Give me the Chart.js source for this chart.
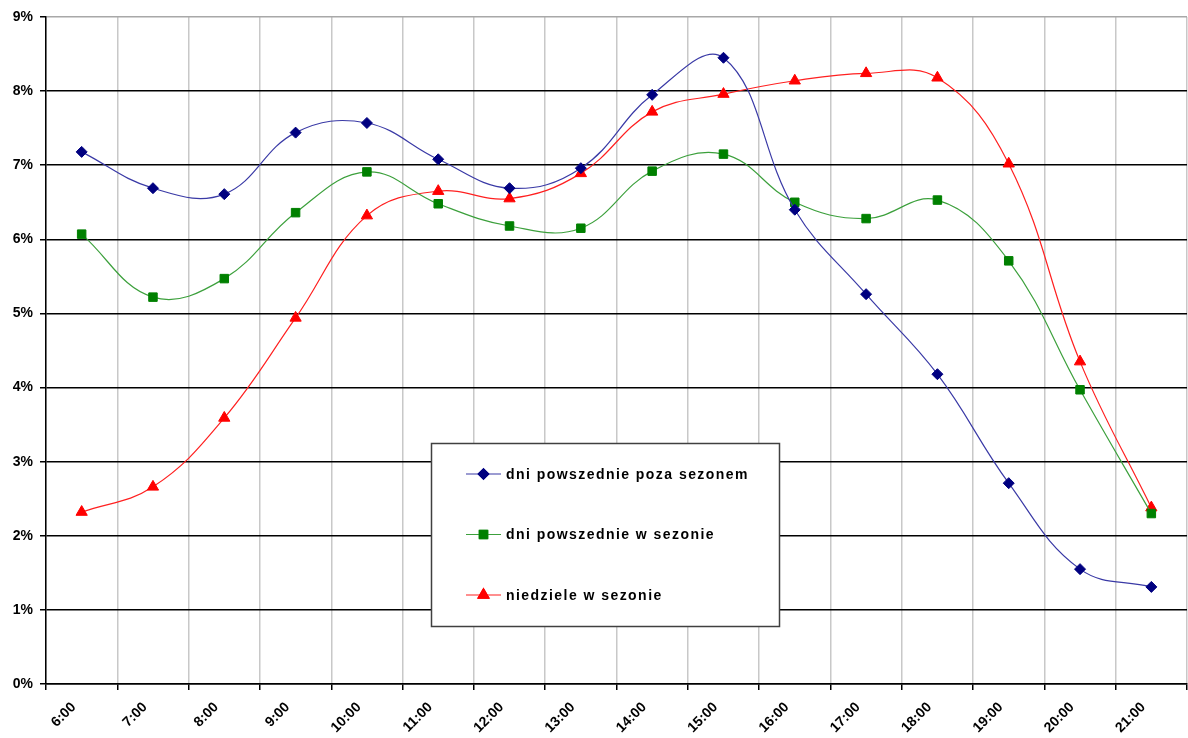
<!DOCTYPE html>
<html>
<head>
<meta charset="utf-8">
<title>Rozkład godzinowy ruchu</title>
<script src="https://cdn.jsdelivr.net/npm/chart.js@4/dist/chart.umd.min.js"></script>
<style>
  html, body { margin: 0; padding: 0; background: #ffffff; }
  canvas { display: block; }
</style>
</head>
<body>
<canvas id="chart" width="1188" height="738"></canvas>
<script>
// Hours of the day (category axis)
const hours = ['6:00','7:00','8:00','9:00','10:00','11:00','12:00','13:00',
               '14:00','15:00','16:00','17:00','18:00','19:00','20:00','21:00'];

// Share of daily traffic per hour, in percent
const weekdaysOffSeason = [7.18, 6.69, 6.61, 7.44, 7.57, 7.08, 6.69, 6.96,
                           7.95, 8.45, 6.40, 5.26, 4.18, 2.71, 1.55, 1.31];
const weekdaysInSeason  = [6.07, 5.22, 5.47, 6.36, 6.91, 6.48, 6.18, 6.15,
                           6.92, 7.15, 6.50, 6.28, 6.53, 5.71, 3.97, 2.30];
const sundaysInSeason   = [2.32, 2.66, 3.59, 4.94, 6.32, 6.65, 6.55, 6.89,
                           7.72, 7.96, 8.14, 8.24, 8.18, 7.02, 4.35, 2.38];

const seriesLabels = ['dni powszednie poza sezonem', 'dni powszednie w sezonie', 'niedziele w sezonie'];
const yTicks = [0, 1, 2, 3, 4, 5, 6, 7, 8, 9];

const FONT = '"Liberation Sans", Arial, sans-serif';

// Framed legend drawn inside the plot area
const boxedLegend = {
  id: 'boxedLegend',
  afterDatasetsDraw(chart, args, opts) {
    const ctx = chart.ctx;
    ctx.save();
    ctx.fillStyle = '#ffffff';
    ctx.fillRect(opts.left, opts.top, opts.width, opts.height);
    ctx.strokeStyle = '#404040';
    ctx.lineWidth = 1.5;
    ctx.strokeRect(opts.left + 0.5, opts.top + 0.5, opts.width, opts.height);

    chart.data.datasets.forEach((ds, i) => {
      const y = opts.top + opts.rowStart + i * opts.rowGap;
      const x0 = opts.left + opts.sampleX;
      // line sample
      ctx.strokeStyle = ds.borderColor;
      ctx.lineWidth = 1.2;
      ctx.beginPath();
      ctx.moveTo(x0, y);
      ctx.lineTo(x0 + opts.sampleW, y);
      ctx.stroke();
      // marker sample
      Chart.helpers.drawPoint(ctx, {
        pointStyle: ds.pointStyle,
        radius: ds.pointRadius,
        rotation: 0,
        borderWidth: 1
      }, x0 + opts.sampleW / 2, y);
      ctx.fillStyle = ds.pointBackgroundColor;
      ctx.strokeStyle = ds.pointBorderColor;
      ctx.lineWidth = 1;
      ctx.fill();
      ctx.stroke();
      // label
      ctx.fillStyle = '#000000';
      ctx.font = 'bold 14px ' + FONT;
      if ('letterSpacing' in ctx) ctx.letterSpacing = '1.45px';
      ctx.textAlign = 'left';
      ctx.textBaseline = 'middle';
      ctx.fillText(ds.label, x0 + opts.sampleW + 5, y + 1);
      if ('letterSpacing' in ctx) ctx.letterSpacing = '0px';
    });
    ctx.restore();
  }
};

new Chart(document.getElementById('chart'), {
  type: 'line',
  data: {
    labels: hours,
    datasets: [
      {
        label: seriesLabels[0],
        data: weekdaysOffSeason,
        borderColor: '#3a3aa6',
        borderWidth: 1.2,
        pointStyle: 'rectRot',
        pointRadius: 5.5,
        pointBackgroundColor: '#000080',
        pointBorderColor: '#000080',
        pointBorderWidth: 1,
        tension: 0.4
      },
      {
        label: seriesLabels[1],
        data: weekdaysInSeason,
        borderColor: '#3ca03c',
        borderWidth: 1.2,
        pointStyle: 'rect',
        pointRadius: 6,
        pointBackgroundColor: '#008000',
        pointBorderColor: '#008000',
        pointBorderWidth: 1,
        tension: 0.4
      },
      {
        label: seriesLabels[2],
        data: sundaysInSeason,
        borderColor: '#ff2020',
        borderWidth: 1.2,
        pointStyle: 'triangle',
        pointRadius: 6.5,
        pointBackgroundColor: '#ff0000',
        pointBorderColor: '#ff0000',
        pointBorderWidth: 1,
        tension: 0.4
      }
    ]
  },
  options: {
    responsive: false,
    animation: false,
    devicePixelRatio: 1,
    layout: { autoPadding: false, padding: { left: 0, right: 1, top: 17, bottom: 0 } },
    plugins: {
      legend: { display: false },
      tooltip: { enabled: false },
      boxedLegend: {
        left: 431, top: 443, width: 348, height: 183,
        sampleX: 35, sampleW: 35, rowStart: 31, rowGap: 60.5
      }
    },
    elements: { line: { capBezierPoints: true } },
    scales: {
      x: {
        type: 'category',
        offset: true,
        afterFit(scale) {
          // the plot runs to the right edge; rotated labels need no side room
          scale.height = 54;
          scale.paddingLeft = 0;
          scale.paddingRight = 0;
        },
        grid: {
          offset: true,
          color: '#c8c8c8',
          lineWidth: 1.5,
          drawTicks: true,
          tickLength: 6,
          tickColor: '#000000'
        },
        border: { display: true, color: '#000000', width: 1.5 },
        ticks: {
          autoSkip: false,
          maxRotation: 45,
          minRotation: 45,
          padding: 9,
          labelOffset: -8,
          color: '#000000',
          font: { family: FONT, size: 14, weight: 'bold' }
        }
      },
      y: {
        min: 0,
        max: 9,
        afterFit(scale) { scale.width = 46; },
        afterBuildTicks(scale) { scale.ticks = yTicks.map(v => ({ value: v })); },
        grid: {
          color: ctx => (ctx.tick && ctx.tick.value === 9) ? '#a8a8a8' : '#000000',
          lineWidth: 1.5,
          drawTicks: true,
          tickLength: 6,
          tickColor: '#000000'
        },
        border: { display: true, color: '#000000', width: 1.5 },
        ticks: {
          padding: 7,
          color: '#000000',
          font: { family: FONT, size: 14, weight: 'bold' },
          callback: v => v + '%'
        }
      }
    }
  },
  plugins: [boxedLegend]
});
</script>
</body>
</html>
